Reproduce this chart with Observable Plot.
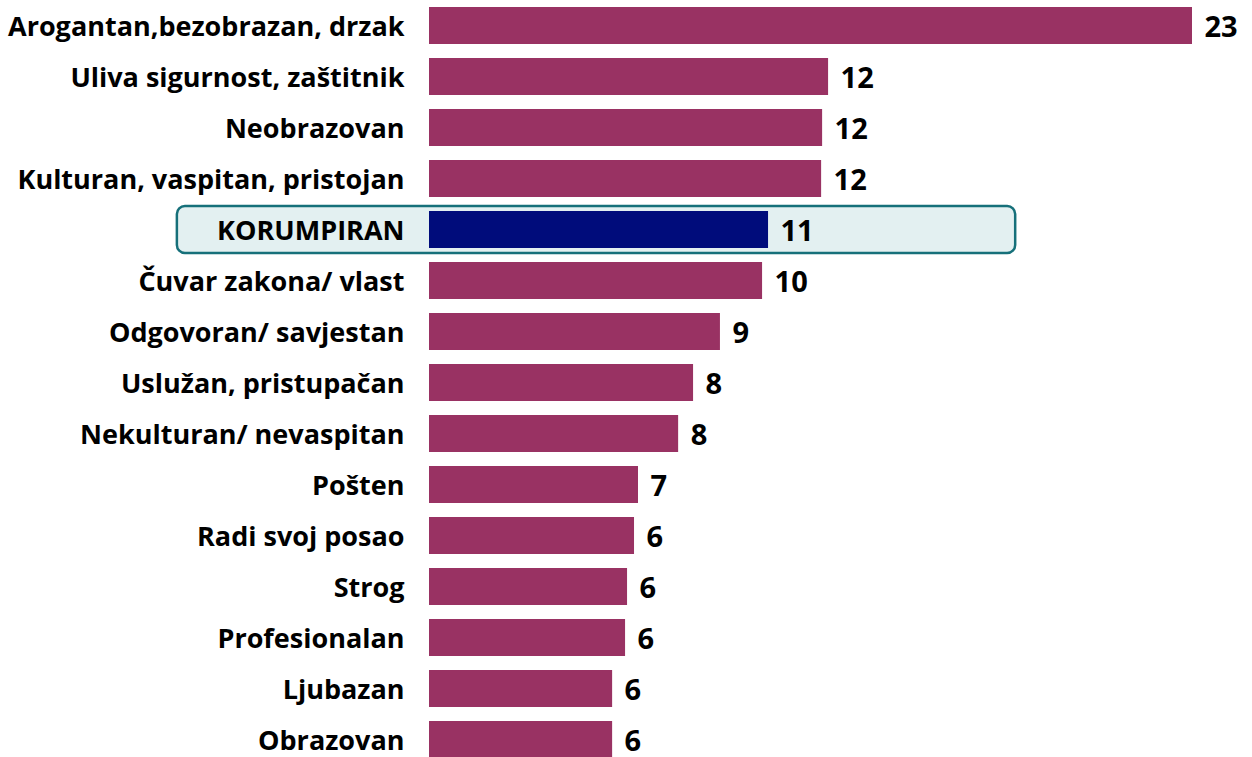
<!DOCTYPE html>
<html>
<head>
<meta charset="utf-8">
<script src="https://cdn.jsdelivr.net/npm/d3@7"></script>
<script src="https://cdn.jsdelivr.net/npm/@observablehq/plot@0.6"></script>
<style>
  html, body { margin: 0; padding: 0; background: #fff; overflow: hidden; }
  #chart svg { display: block; }
</style>
</head>
<body>
<div id="chart"></div>
<script>
const categories = [
  "Arogantan,bezobrazan, drzak",
  "Uliva sigurnost, zaštitnik",
  "Neobrazovan",
  "Kulturan, vaspitan, pristojan",
  "KORUMPIRAN",
  "Čuvar zakona/ vlast",
  "Odgovoran/ savjestan",
  "Uslužan, pristupačan",
  "Nekulturan/ nevaspitan",
  "Pošten",
  "Radi svoj posao",
  "Strog",
  "Profesionalan",
  "Ljubazan",
  "Obrazovan"
];
const values = [23.0, 12.03, 11.85, 11.82, 10.22, 10.04, 8.77, 7.96, 7.51, 6.30, 6.18, 5.97, 5.91, 5.52, 5.52];
const valueLabels = ["23", "12", "12", "12", "11", "10", "9", "8", "8", "7", "6", "6", "6", "6", "6"];
const highlighted = "KORUMPIRAN";
const highlightSpan = [-7.6, 17.67];

const data = categories.map((c, i) => ({category: c, value: values[i], label: valueLabels[i], hi: c === highlighted}));
const hiRow = data.filter(d => d.hi).map(d => ({category: d.category, x1: highlightSpan[0], x2: highlightSpan[1]}));

const font = "'Open Sans', 'Noto Sans', sans-serif";

const chart = Plot.plot({
  width: 1252,
  height: 764,
  marginLeft: 429,
  marginRight: 60,
  marginTop: 0,
  marginBottom: 0,
  style: {fontFamily: font, background: "white"},
  x: {domain: [0, 23], axis: null},
  y: {domain: categories, axis: null, paddingInner: 0.277, paddingOuter: 0.0976},
  marks: [
    Plot.rectX(hiRow, {y: "category", x1: "x1", x2: "x2", insetTop: -5, insetBottom: -5,
      fill: "#e3f0f1", stroke: "#16707a", strokeWidth: 2.5, rx: 8, clip: false}),
    Plot.barX(data, {y: "category", x: "value", fill: d => d.hi ? "#000c7b" : "#993263"}),
    Plot.text(data, {y: "category", x: 0, text: "category", textAnchor: "end", dx: -25, dy: 1,
      fontSize: 27, fontWeight: "bold", fill: "#000"}),
    Plot.text(data, {y: "category", x: "value", text: "label", textAnchor: "start", dx: 12, dy: 2,
      fontSize: 29, fontWeight: "bold", fill: "#000"})
  ]
});
document.getElementById("chart").appendChild(chart);
</script>
</body>
</html>
